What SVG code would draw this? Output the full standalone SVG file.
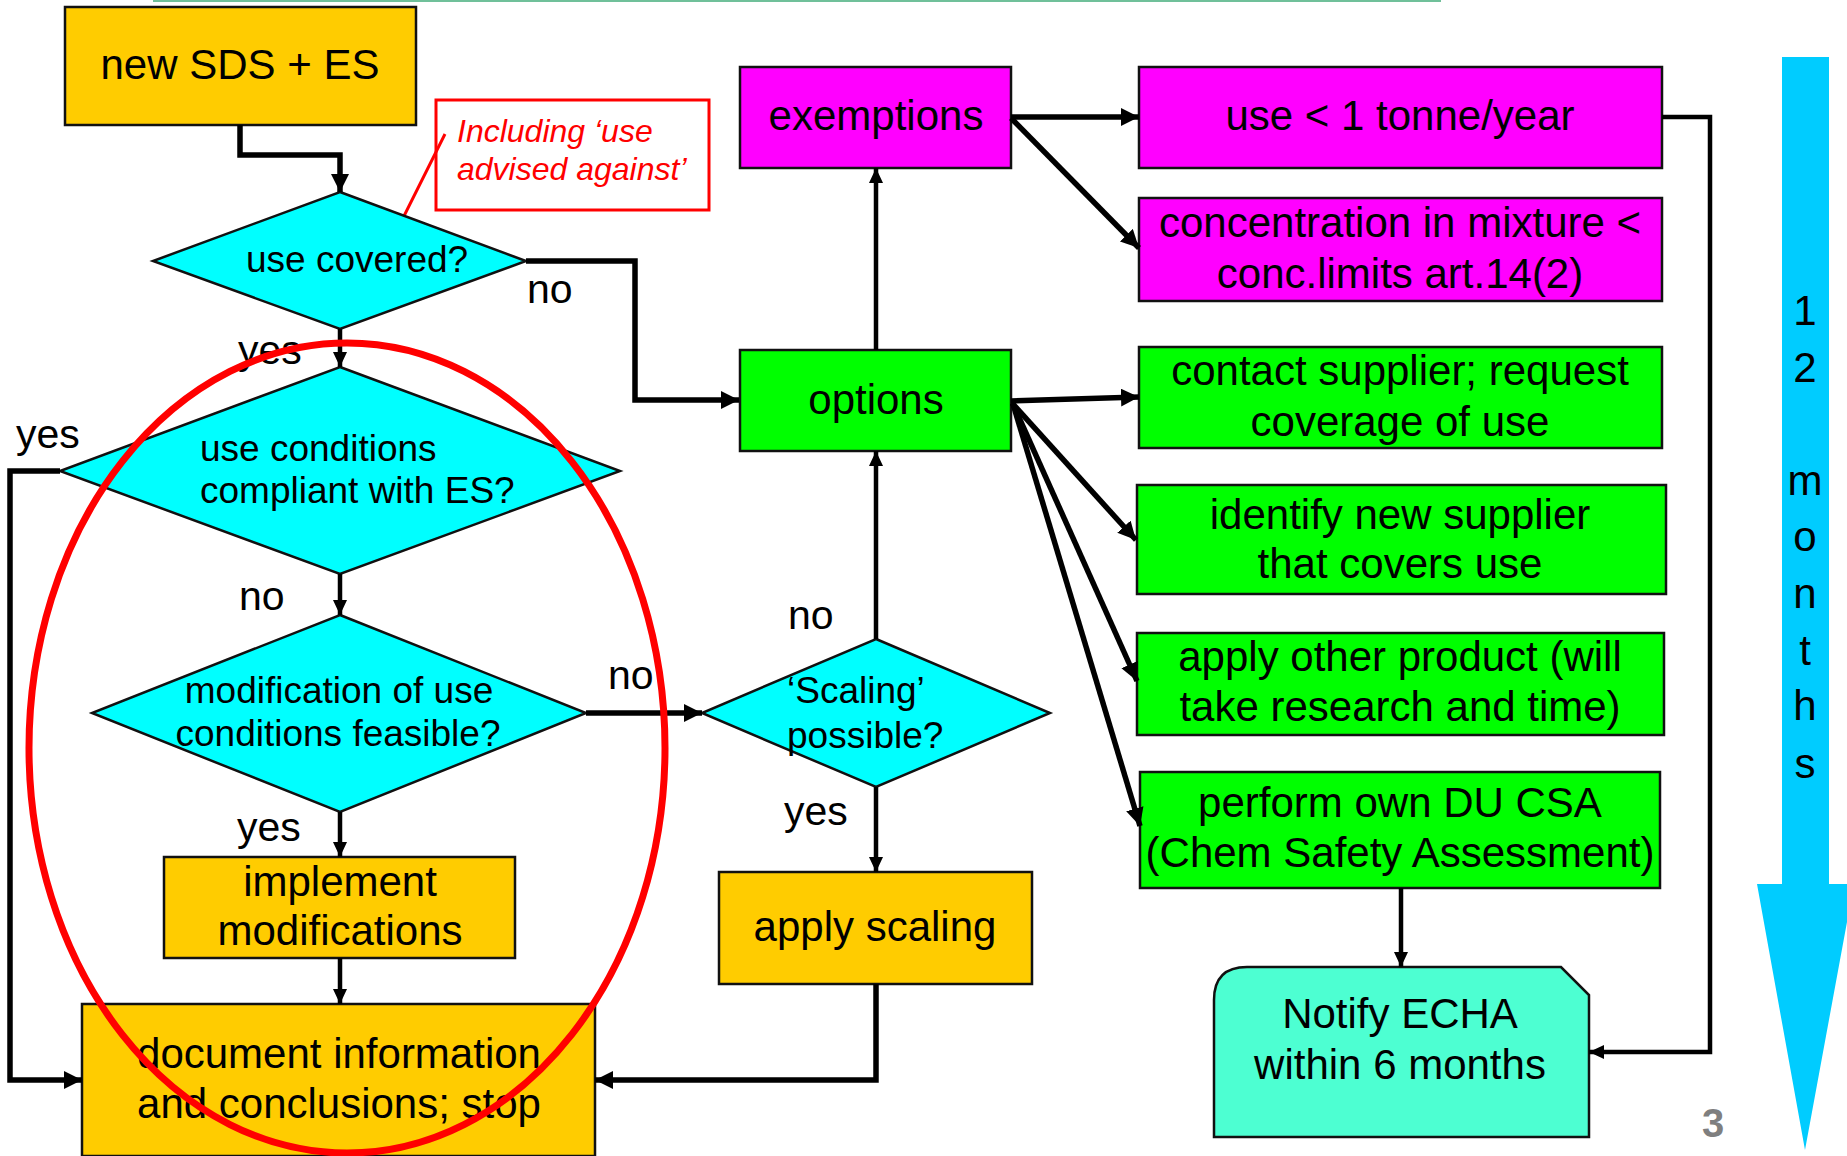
<svg xmlns="http://www.w3.org/2000/svg" width="1847" height="1156" viewBox="0 0 1847 1156">
<defs>
<style>
text{font-family:"Liberation Sans",Arial,sans-serif;fill:#000}
.box{stroke:#111;stroke-width:2.5}
.org{fill:#FFCC00}
.mag{fill:#FF00FF}
.grn{fill:#00FF00}
.cyn{fill:#00FFFF}
.t42{font-size:42px;text-anchor:middle}
.t37{font-size:37px}
.lbl{font-size:41px}
.c{stroke:#000;fill:none}
.thick{stroke-width:5.5;marker-end:url(#ab)}
.thin{stroke-width:4.5;marker-end:url(#as)}
</style>
<marker id="ab" markerUnits="userSpaceOnUse" markerWidth="20" markerHeight="20" refX="18" refY="9" orient="auto"><path d="M0,0 L18,9 L0,18 Z" fill="#000"/></marker>
<marker id="as" markerUnits="userSpaceOnUse" markerWidth="16" markerHeight="16" refX="15" refY="7" orient="auto"><path d="M0,0 L15,7 L0,14 Z" fill="#000"/></marker>
</defs>
<rect width="1847" height="1156" fill="#fff"/>
<path d="M153,1 H1441" stroke="#70C09A" stroke-width="2"/>

<g id="timeline">
<polygon points="1782,57 1829,57 1829,884 1854,884 1805,1150 1757,884 1782,884" fill="#00CCFF"/>
<g font-size="42" text-anchor="middle">
<text x="1805" y="325" class="t42">1</text>
<text x="1805" y="382" class="t42">2</text>
<text x="1805" y="495" class="t42">m</text>
<text x="1805" y="551" class="t42">o</text>
<text x="1805" y="608" class="t42">n</text>
<text x="1805" y="665" class="t42">t</text>
<text x="1805" y="720" class="t42">h</text>
<text x="1805" y="778" class="t42">s</text>
</g>
</g>

<g id="n-new-sds">
<rect class="box org" x="65" y="7" width="351" height="118"/>
<text class="t42" x="240" y="79">new SDS + ES</text>
</g>

<g id="n-note">
<rect x="436" y="100" width="273" height="110" fill="#fff" stroke="#FF0000" stroke-width="3"/>
<text x="457" y="142" font-size="32" font-style="italic" style="fill:#FF0000">Including ‘use</text>
<text x="457" y="180" font-size="32" font-style="italic" style="fill:#FF0000">advised against’</text>
<path d="M445,134 L396,232" stroke="#FF0000" stroke-width="3"/>
</g>

<g id="n-use-covered">
<polygon class="box cyn" points="340,192 526,261 340,329 153,261"/>
<text class="t37" x="246" y="272">use covered?</text>
</g>

<g id="n-compliant">
<polygon class="box cyn" points="340,367 620,471 340,574 60,471"/>
<text class="t37" x="200" y="461">use conditions</text>
<text class="t37" x="200" y="503">compliant with ES?</text>
</g>

<g id="n-modification">
<polygon class="box cyn" points="340,615 586,713 340,812 92,713"/>
<text class="t37" x="339" y="703" text-anchor="middle">modification of use</text>
<text class="t37" x="338" y="746" text-anchor="middle">conditions feasible?</text>
</g>

<g id="n-implement">
<rect class="box org" x="164" y="857" width="351" height="101"/>
<text class="t42" x="340" y="896">implement</text>
<text class="t42" x="340" y="945">modifications</text>
</g>

<g id="n-document">
<rect class="box org" x="82" y="1004" width="513" height="152"/>
<text class="t42" x="339" y="1068">document information</text>
<text class="t42" x="339" y="1118">and conclusions; stop</text>
</g>

<g id="n-scaling">
<polygon class="box cyn" points="876,639 1050,713 876,787 702,713"/>
<text class="t37" x="787" y="703">‘Scaling’</text>
<text class="t37" x="787" y="748">possible?</text>
</g>

<g id="n-apply-scaling">
<rect class="box org" x="719" y="872" width="313" height="112"/>
<text class="t42" x="875" y="941">apply scaling</text>
</g>

<g id="n-exemptions">
<rect class="box mag" x="740" y="67" width="271" height="101"/>
<text class="t42" x="876" y="130">exemptions</text>
</g>

<g id="n-options">
<rect class="box grn" x="740" y="350" width="271" height="101"/>
<text class="t42" x="876" y="414">options</text>
</g>

<g id="n-tonne">
<rect class="box mag" x="1139" y="67" width="523" height="101"/>
<text class="t42" x="1400" y="130">use &lt; 1 tonne/year</text>
</g>

<g id="n-concentration">
<rect class="box mag" x="1139" y="198" width="523" height="103"/>
<text class="t42" x="1400" y="237">concentration in mixture &lt;</text>
<text class="t42" x="1400" y="288">conc.limits art.14(2)</text>
</g>

<g id="n-contact">
<rect class="box grn" x="1139" y="347" width="523" height="101"/>
<text class="t42" x="1400" y="385">contact supplier; request</text>
<text class="t42" x="1400" y="436">coverage of use</text>
</g>

<g id="n-identify">
<rect class="box grn" x="1137" y="485" width="529" height="109"/>
<text class="t42" x="1400" y="529">identify new supplier</text>
<text class="t42" x="1400" y="578">that covers use</text>
</g>

<g id="n-other-product">
<rect class="box grn" x="1137" y="633" width="527" height="102"/>
<text class="t42" x="1400" y="671">apply other product (will</text>
<text class="t42" x="1400" y="721">take research and time)</text>
</g>

<g id="n-csa">
<rect class="box grn" x="1140" y="772" width="520" height="116"/>
<text class="t42" x="1400" y="817">perform own DU CSA</text>
<text class="t42" x="1400" y="867">(Chem Safety Assessment)</text>
</g>

<g id="n-notify">
<path class="box" d="M1214,1137 L1214,1000 Q1214,967 1247,967 L1561,967 L1589,995 L1589,1137 Z" fill="#4DFFD2" stroke-width="3"/>
<text class="t42" x="1400" y="1028">Notify ECHA</text>
<text class="t42" x="1400" y="1079">within 6 months</text>
</g>

<g id="connectors">
<path class="c thick" d="M240,125 V155 H340 V192"/>
<path class="c thick" d="M526,261 H635 V400 H739"/>
<path class="c thin" d="M340,329 V367"/>
<path class="c thin" d="M340,574 V615"/>
<path class="c thick" d="M60,471 H10 V1080 H82"/>
<path class="c thick" d="M586,713 H702"/>
<path class="c thin" d="M340,812 V857"/>
<path class="c thin" d="M340,958 V1004"/>
<path class="c thin" d="M876,639 V451"/>
<path class="c thin" d="M876,787 V872"/>
<path class="c thick" d="M876,984 V1080 H595" stroke-width="6"/>
<path class="c thin" d="M876,350 V168"/>
<path class="c thick" d="M1011,117 H1139"/>
<path class="c thick" d="M1011,118 L1139,248"/>
<path class="c thick" d="M1011,401 L1139,397"/>
<path class="c thick" d="M1012,403 L1136,540" stroke-width="4.5"/>
<path class="c thick" d="M1013,404 L1137,681" stroke-width="4.5"/>
<path class="c thick" d="M1013,404 L1140,826" stroke-width="4.5"/>
<path class="c thin" d="M1401,888 V967"/>
<path class="c thin" d="M1662,117 H1710 V1052 H1589"/>
<text class="lbl" x="527" y="303">no</text>
<text class="lbl" x="238" y="364">yes</text>
<text class="lbl" x="16" y="448">yes</text>
<text class="lbl" x="239" y="610">no</text>
<text class="lbl" x="608" y="689">no</text>
<text class="lbl" x="237" y="841">yes</text>
<text class="lbl" x="788" y="629">no</text>
<text class="lbl" x="784" y="825">yes</text>
</g>

<g id="highlight">
<ellipse cx="347" cy="748" rx="318" ry="405" fill="none" stroke="#FF0000" stroke-width="7"/>
</g>

<text x="1713" y="1137" font-size="40" font-weight="bold" text-anchor="middle" style="fill:#7F7F7F">3</text>
</svg>
